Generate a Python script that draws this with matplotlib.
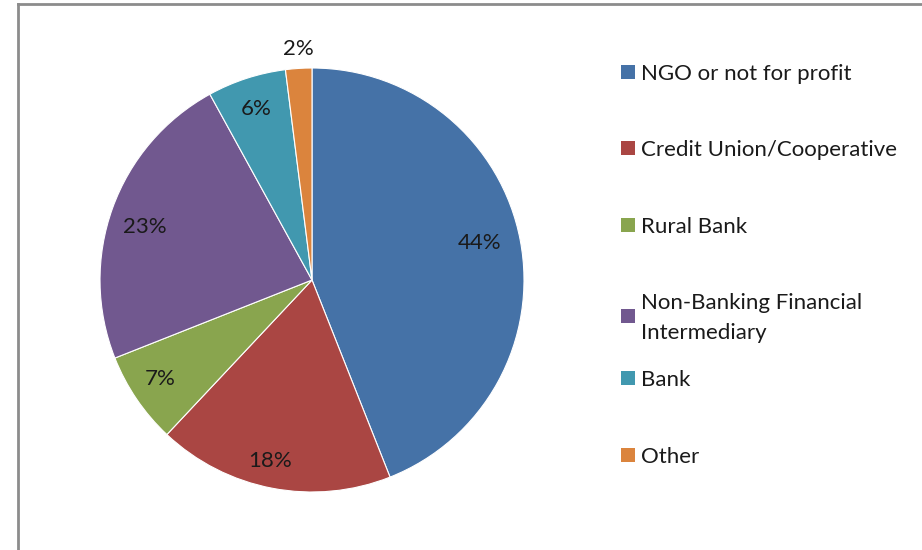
import numpy as np
import matplotlib
matplotlib.use("Agg")
import matplotlib.pyplot as plt
from matplotlib.patches import Rectangle
from matplotlib.lines import Line2D
from matplotlib.transforms import ScaledTranslation

categories = [
    "NGO or not for profit",
    "Credit Union/Cooperative",
    "Rural Bank",
    "Non-Banking Financial\nIntermediary",
    "Bank",
    "Other",
]
shares = [44, 18, 7, 23, 6, 2]
colors = ["#4572A7", "#AA4643", "#89A54E", "#71588F", "#4198AF", "#DB843D"]
# radial distance of each percentage label and a small angular nudge (degrees)
label_dist = [0.814, 0.865, 0.849, 0.833, 0.862, 1.103]
label_nudge = [2.3, -2.3, -1.8, 1.5, -0.2, -0.3]

W, H = 922, 550
fig = plt.figure(figsize=(W / 100, H / 100), dpi=100)
fig.patch.set_facecolor("white")
plt.rcParams["font.family"] = ["Lato", "DejaVu Sans"]

# chart frame (only top and left edges fall inside the image)
fig.add_artist(Line2D([18 / W, 18 / W], [0, 1 - 4 / H], color="#8c8c8c", lw=2,
                      transform=fig.transFigure))
fig.add_artist(Line2D([18 / W, 1], [1 - 4 / H, 1 - 4 / H], color="#8c8c8c", lw=2,
                      transform=fig.transFigure))

cx, cy, r = 312, 280, 212
ax = fig.add_axes([(cx - r) / W, (H - cy - r) / H, 2 * r / W, 2 * r / H])
wedges, _ = ax.pie(shares, colors=colors, startangle=90, counterclock=False,
                   radius=1, wedgeprops=dict(edgecolor="white", linewidth=0.8))
ax.set_xlim(-1, 1)
ax.set_ylim(-1, 1)
ax.set_aspect("equal")
ax.axis("off")

shift = ax.transData + ScaledTranslation(0, -2.5 / 100, fig.dpi_scale_trans)
for w, v, d, n in zip(wedges, shares, label_dist, label_nudge):
    ang = np.deg2rad((w.theta1 + w.theta2) / 2 + n)
    ax.text(d * np.cos(ang), d * np.sin(ang), f"{v}%", ha="center",
            va="center", fontsize=16, color="#1a1a1a", clip_on=False,
            transform=shift)

# legend
legend_y = [72, 148, 225, 316, 378, 455]
for lab, col, y in zip(categories, colors, legend_y):
    fig.add_artist(Rectangle((621 / W, 1 - (y + 7) / H), 14 / W, 14 / H,
                             facecolor=col, edgecolor="none",
                             transform=fig.transFigure))
    fig.text(641 / W, 1 - (y + 2) / H, lab, ha="left", va="center", fontsize=16,
             color="#1a1a1a", linespacing=1.6)

fig.savefig("out.png", dpi=100)
